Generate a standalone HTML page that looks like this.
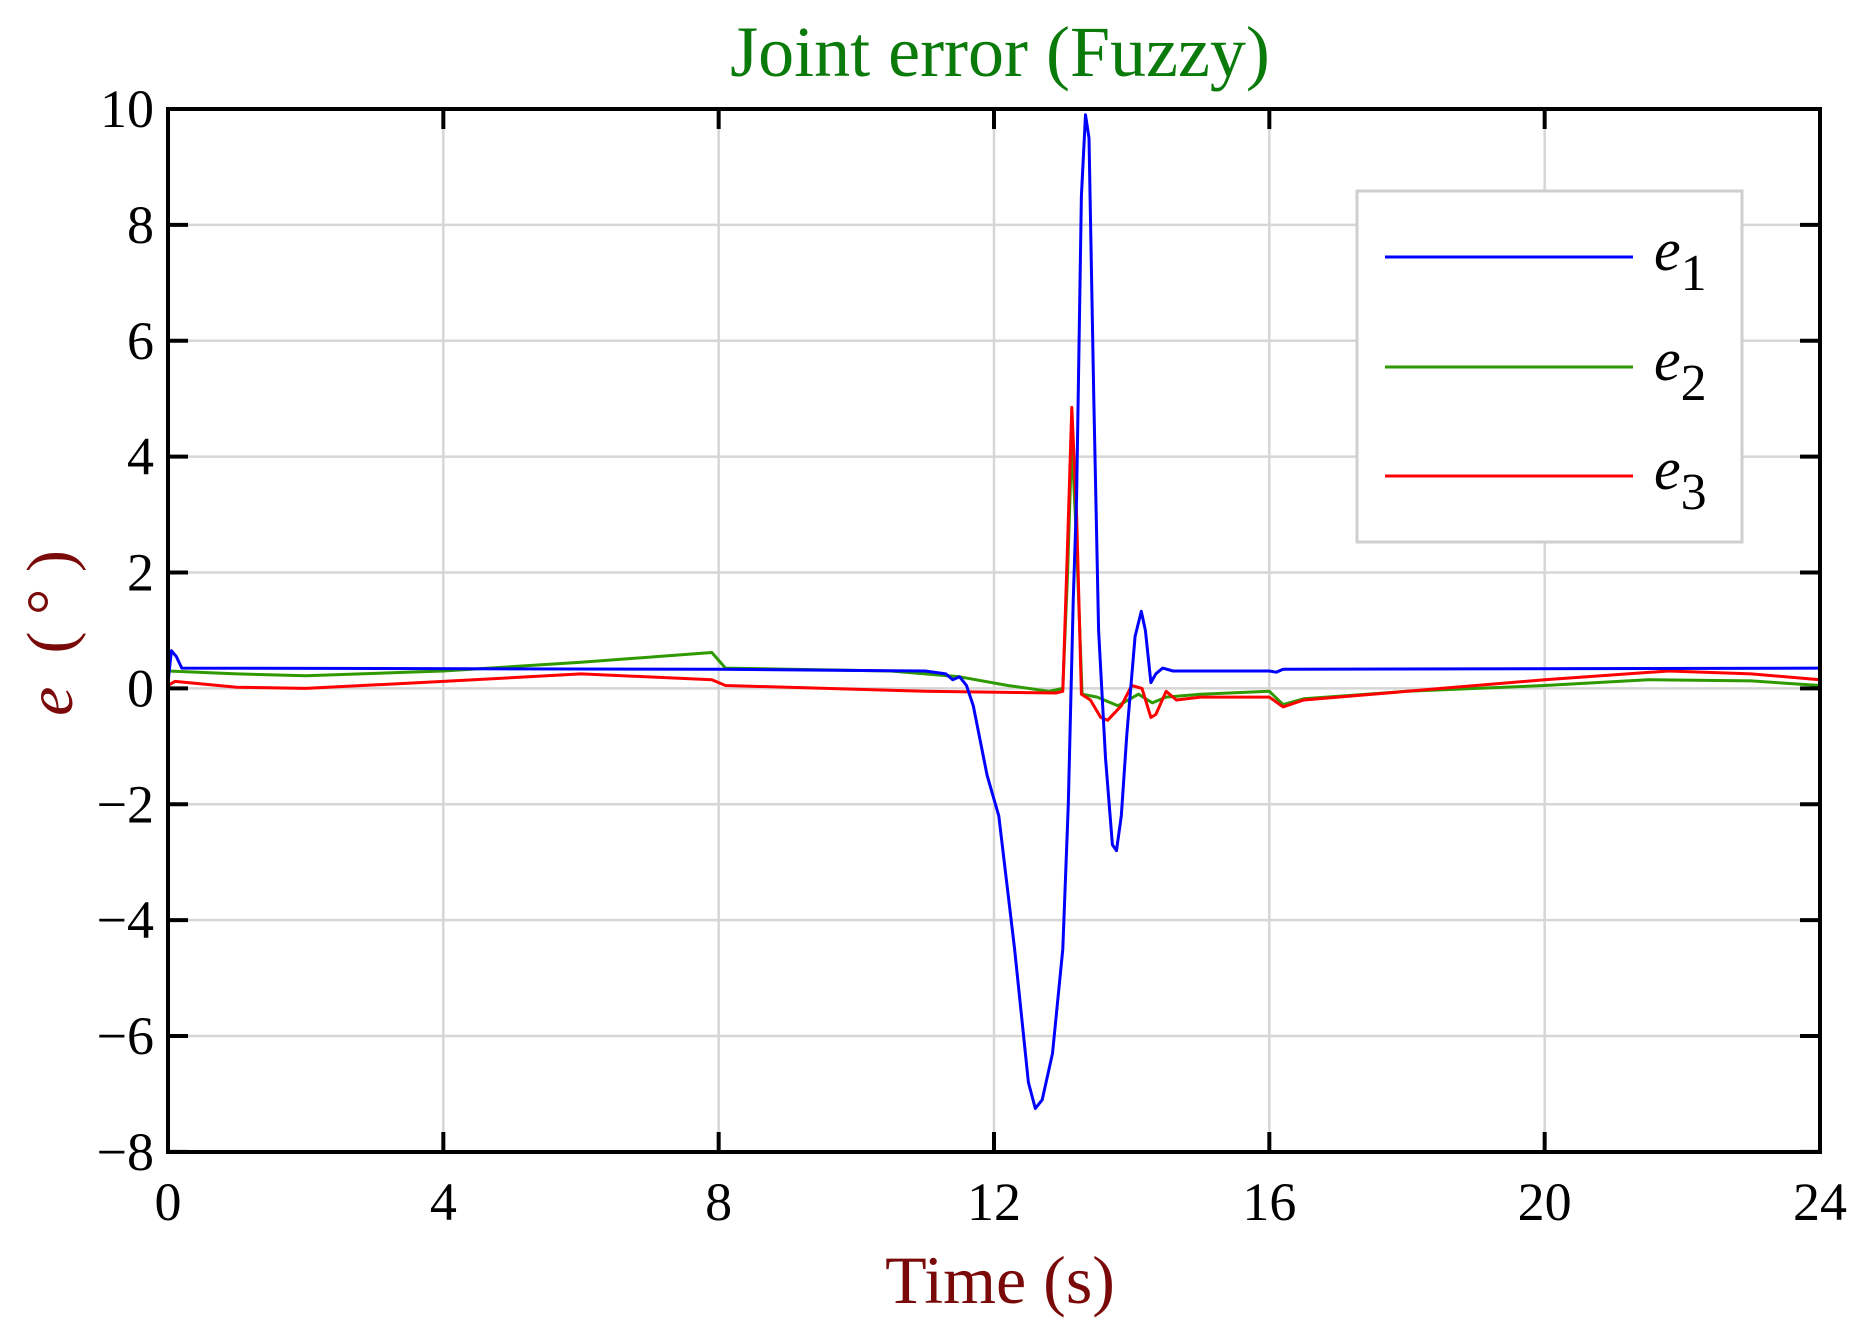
<!DOCTYPE html>
<html><head><meta charset="utf-8">
<style>
html,body{margin:0;padding:0;background:#fff;}
svg{display:block;}
text{font-family:"Liberation Serif",serif;}
</style></head>
<body>
<svg id="s" width="1863" height="1333" viewBox="0 0 1863 1333" xmlns="http://www.w3.org/2000/svg">
<rect width="1863" height="1333" fill="#fff"/>
<g id="grid" stroke="#d6d6d6" stroke-width="2.5"></g>
<g id="series" fill="none" stroke-width="3" stroke-linejoin="round"></g>
<rect x="168" y="109" width="1652" height="1043" fill="none" stroke="#000" stroke-width="4"/>
<g id="ticks" stroke="#000" stroke-width="4"></g>
<g id="labels" font-size="54" fill="#000"></g>
<text x="1000" y="76" font-size="72" fill="#0a7a0a" text-anchor="middle">Joint error (Fuzzy)</text>
<text x="1000" y="1303" font-size="68" fill="#7a0a0a" text-anchor="middle">Time (s)</text>
<text transform="translate(72,633) rotate(-90)" font-size="66" fill="#7a0a0a" text-anchor="middle" xml:space="preserve"><tspan font-style="italic">e</tspan>  ( ° )</text>
<rect x="1357" y="191" width="385" height="351" fill="#fff" stroke="#cfcfcf" stroke-width="3"/>
<line x1="1385" y1="257" x2="1633" y2="257" stroke="#0000ff" stroke-width="3"/>
<line x1="1385" y1="367" x2="1633" y2="367" stroke="#2e9a00" stroke-width="3"/>
<line x1="1385" y1="476" x2="1633" y2="476" stroke="#ff0000" stroke-width="3"/>
<text x="1654" y="270" font-size="60"><tspan font-style="italic">e</tspan><tspan dy="20" font-size="52">1</tspan></text>
<text x="1654" y="380" font-size="60"><tspan font-style="italic">e</tspan><tspan dy="20" font-size="52">2</tspan></text>
<text x="1654" y="489" font-size="60"><tspan font-style="italic">e</tspan><tspan dy="20" font-size="52">3</tspan></text>
</svg>
<script>
var NS="http://www.w3.org/2000/svg";
function X(t){return 168+68.833*t;}
function Y(v){return 109+57.94*(10-v);}
function el(p,n,a){var e=document.createElementNS(NS,n);for(var k in a)e.setAttribute(k,a[k]);p.appendChild(e);return e;}
var g=document.getElementById('grid'),tk=document.getElementById('ticks'),lb=document.getElementById('labels');
for(var t=4;t<24;t+=4){el(g,'line',{x1:X(t),y1:109,x2:X(t),y2:1152});}
for(var v=-6;v<10;v+=2){el(g,'line',{x1:168,y1:Y(v),x2:1820,y2:Y(v)});}
for(var t=0;t<=24;t+=4){el(tk,'line',{x1:X(t),y1:1152,x2:X(t),y2:1132});el(tk,'line',{x1:X(t),y1:109,x2:X(t),y2:129});
 var tx=el(lb,'text',{x:X(t),y:1220,'text-anchor':'middle'});tx.textContent=t;}
for(var v=-8;v<=10;v+=2){el(tk,'line',{x1:168,y1:Y(v),x2:188,y2:Y(v)});el(tk,'line',{x1:1820,y1:Y(v),x2:1800,y2:Y(v)});
 var tx=el(lb,'text',{x:154,y:Y(v)+18,'text-anchor':'end'});tx.textContent=(v<0?'\u2212'+(-v):v);}
var e1=[[0,0.1],[0.05,0.65],[0.12,0.55],[0.2,0.35],[8,0.33],[11,0.3],[11.3,0.25],[11.4,0.15],[11.5,0.2],[11.6,0.05],[11.7,-0.3],[11.9,-1.5],[12.07,-2.2],[12.3,-4.5],[12.5,-6.8],[12.6,-7.25],[12.7,-7.1],[12.85,-6.3],[13.0,-4.5],[13.08,-2],[13.15,1.5],[13.2,3.3],[13.27,8.5],[13.33,9.9],[13.38,9.5],[13.45,5],[13.52,1],[13.62,-1.2],[13.72,-2.7],[13.78,-2.8],[13.85,-2.2],[13.93,-0.8],[14.05,0.9],[14.14,1.33],[14.2,1.0],[14.28,0.1],[14.35,0.25],[14.45,0.35],[14.6,0.3],[16,0.3],[16.1,0.28],[16.2,0.33],[24,0.35]];
var e2=[[0,0.3],[1,0.25],[2,0.22],[4,0.3],[6,0.45],[7.9,0.62],[8.1,0.35],[10.5,0.3],[11.5,0.2],[12.2,0.05],[12.8,-0.05],[13.0,0],[13.07,2],[13.13,4.3],[13.2,2.5],[13.28,-0.1],[13.5,-0.15],[13.8,-0.3],[14.1,-0.1],[14.3,-0.25],[14.5,-0.15],[15,-0.1],[16,-0.05],[16.2,-0.28],[16.5,-0.18],[18,-0.05],[20,0.05],[21.5,0.15],[23,0.13],[24,0.05]];
var e3=[[0,0.05],[0.1,0.12],[1,0.02],[2,0],[4,0.12],[6,0.25],[7.9,0.15],[8.1,0.05],[11,-0.05],[12.9,-0.08],[13.0,-0.05],[13.07,2.5],[13.13,4.85],[13.2,3],[13.27,-0.1],[13.4,-0.2],[13.55,-0.5],[13.65,-0.55],[13.85,-0.3],[14.0,0.05],[14.15,0],[14.28,-0.5],[14.35,-0.45],[14.5,-0.05],[14.65,-0.2],[15,-0.15],[16,-0.15],[16.2,-0.32],[16.5,-0.2],[18,-0.05],[20,0.15],[21.8,0.3],[23,0.25],[24,0.15]];
var sg=document.getElementById('series');
[[e2,'#2e9a00'],[e3,'#ff0000'],[e1,'#0000ff']].forEach(function(s){
 el(sg,'polyline',{points:s[0].map(function(p){return X(p[0]).toFixed(1)+','+Y(p[1]).toFixed(1);}).join(' '),stroke:s[1]});});
</script>
</body></html>
